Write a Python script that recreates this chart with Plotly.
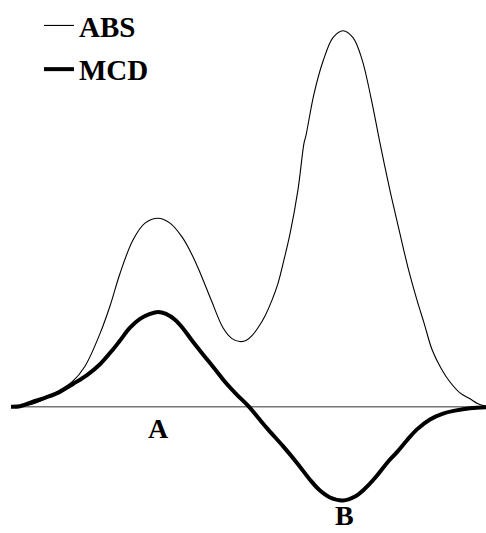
import plotly.graph_objects as go

# Energy axis (arbitrary units) and band intensities (arbitrary units)
abs_x = [0, 9, 19, 29, 39, 49, 61, 74, 89, 99, 109, 122, 134, 147, 159, 171, 181, 189, 201,
         212, 221, 229, 235, 241, 247, 254, 261, 267, 273, 279, 287, 293, 295, 303, 312, 322,
         332, 342, 351, 360, 369, 379, 389, 397, 406, 413, 421, 430, 439, 449, 459, 467, 475]
abs_y = [0, 0.5, 2, 5.5, 11, 17, 25, 41, 74, 102, 135, 169, 186, 191, 186, 172, 154, 136, 106,
         80, 69, 66, 67, 72, 80, 92, 108, 125, 149, 175, 220, 267, 275, 317, 350, 374,
         381, 374, 352, 313, 267, 219, 175, 141, 108, 85, 58, 39, 25, 14, 8, 3, 0.5]

mcd_x = [0, 9, 22, 34, 49, 62, 76, 89, 102, 109, 119, 129, 139, 147, 155, 164, 173, 181, 192,
         204, 215, 226, 237, 247, 257, 272, 286, 299, 309, 319, 332, 344, 354, 365, 376, 386,
         396, 406, 419, 432, 444, 459, 475]
mcd_y = [0, 0.5, 5, 9, 15, 23, 32, 43, 58, 67, 80, 89, 94, 96, 94, 88, 78, 67, 53,
         38, 24, 12, 1, -11, -23, -40, -57, -74, -85, -92, -95, -91, -83, -71, -57, -46,
         -34, -23, -13, -7, -4, -1.5, -0.5]

band_labels = ["A", "B"]
band_x = [147, 333]
band_y = [-22, -110]

fig = go.Figure()
fig.add_trace(go.Scatter(x=abs_x, y=abs_y, mode="lines", name="<b>ABS</b>",
                         legendgroup="abs",
                         line=dict(color="black", width=1.1, shape="spline", smoothing=1.0)))
fig.add_trace(go.Scatter(x=mcd_x, y=mcd_y, mode="lines", name="<b>MCD</b>",
                         legendgroup="mcd",
                         line=dict(color="black", width=4, shape="spline", smoothing=1.0)))

# baseline
fig.add_shape(type="line", x0=min(abs_x), x1=max(abs_x), y0=0, y1=0,
              line=dict(color="#777777", width=1.6), layer="below")

for lab, bx, by in zip(band_labels, band_x, band_y):
    fig.add_annotation(x=bx, y=by, text="<b>%s</b>" % lab, showarrow=False, borderpad=0,
                       font=dict(family="Liberation Serif", size=28, color="black"))

fig.update_layout(
    width=486, height=533,
    margin=dict(l=0, r=0, t=0, b=0),
    paper_bgcolor="white", plot_bgcolor="white",
    xaxis=dict(range=[-11, 475], visible=False, fixedrange=True),
    yaxis=dict(range=[-128, 405], visible=False, fixedrange=True),
    showlegend=True,
    legend=dict(x=39 / 486, y=1 + 7 / 533, xanchor="left", yanchor="top",
                bgcolor="rgba(0,0,0,0)", borderwidth=0, tracegroupgap=3,
                font=dict(family="Liberation Serif", size=29, color="black")),
)

fig.write_html("out.html", config={"displayModeBar": False},
               post_script="document.body.style.margin='0';document.body.style.padding='0';")
